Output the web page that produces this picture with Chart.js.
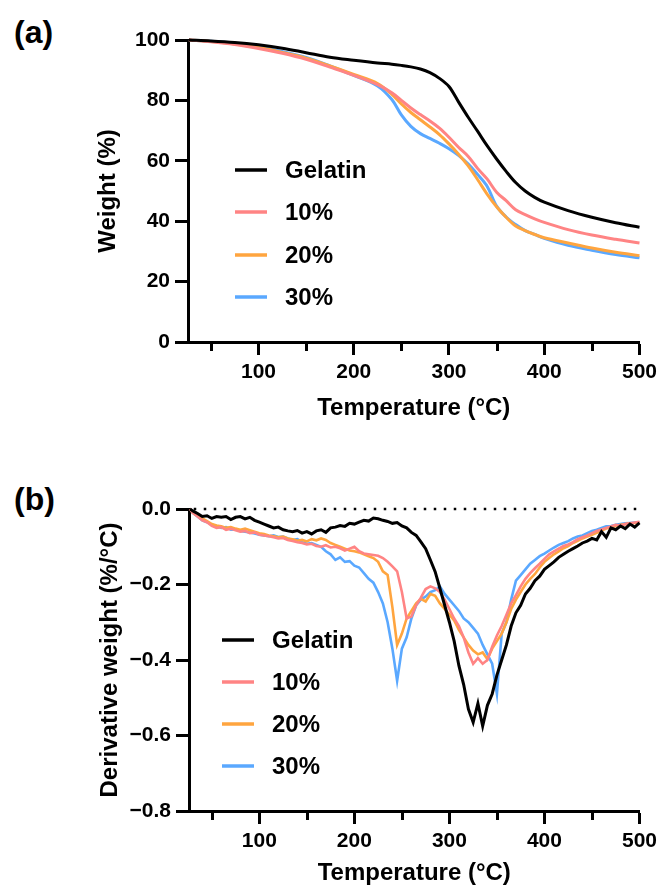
<!DOCTYPE html>
<html><head><meta charset="utf-8">
<script src="https://cdn.jsdelivr.net/npm/chart.js@4"></script>
<style>
html,body{margin:0;padding:0;background:#fff;}
#wrap{position:relative;width:662px;height:894px;overflow:hidden;background:#fff;}
.panel{position:absolute;left:14px;font-family:"Liberation Sans",Arial,sans-serif;font-weight:bold;font-size:32px;line-height:32px;color:#000;}
canvas{position:absolute;left:0;}
</style></head><body>
<div id="wrap">
<div class="panel" style="top:16px">(a)</div>
<div class="panel" style="top:483px">(b)</div>
<canvas id="ca" width="662" height="440" style="top:0px"></canvas>
<canvas id="cb" width="662" height="444" style="top:450px"></canvas>
</div>
<script>
// ---------- DATA ----------
const seriesLabels = ['Gelatin', '10%', '20%', '30%'];
const seriesColors = ['#000000', '#FF8484', '#FFA53F', '#5AA8FF'];
const xTickValues = [100, 200, 300, 400, 500];
const xMinorTicks = [50, 150, 250, 350, 450];
const yTicksA = [0, 20, 40, 60, 80, 100];
const yTicksB = [0, -0.2, -0.4, -0.6, -0.8];

// (a) TGA weight (%)
const tempsA = [27,50,75,100,125,150,175,200,225,240,250,260,270,280,290,300,310,320,330,340,350,360,370,380,390,400,425,450,475,500];
const gelatinA = [100,99.7,99.2,98.4,97.3,95.8,94.3,93.3,92.4,92.0,91.6,91.1,90.4,89.2,87.3,84.6,79.5,74.5,69.8,65.0,60.6,56.5,52.8,50.0,47.9,46.3,43.5,41.3,39.5,38.0];
const pct10A  = [100,99.4,98.5,97.2,95.6,93.6,91.0,88.3,85.2,82.5,80.0,77.5,75.3,73.2,70.8,67.8,64.5,61.5,57.5,54.0,49.6,46.8,43.8,42.2,40.8,39.6,37.2,35.4,34.0,32.8];
const pct20A  = [100,99.5,98.7,97.5,95.9,94.0,91.4,88.6,85.6,82.0,78.8,76.0,73.6,71.2,68.7,65.6,62.2,58.4,53.8,49.0,44.8,41.3,38.4,36.9,35.6,34.5,32.8,31.1,29.7,28.6];
const pct30A  = [100,99.6,98.9,97.8,96.2,94.2,91.4,88.3,84.8,80.3,75.2,71.4,69.0,67.4,65.8,64.0,61.8,59.0,55.5,51.6,45.0,41.4,38.9,36.9,35.6,34.3,32.0,30.4,29.0,27.9];

// (b) DTG derivative weight (%/°C)
const tempsB = [27,30,35,40,45,50,55,60,65,70,75,80,85,90,95,100,105,110,115,120,125,130,135,140,145,150,155,160,165,170,175,180,185,190,195,200,205,210,215,220,225,230,235,240,245,250,255,260,265,270,275,280,285,290,295,300,305,310,315,320,325,330,335,340,345,350,355,360,365,370,375,380,385,390,395,400,405,410,415,420,425,430,435,440,445,450,455,460,465,470,475,480,485,490,495,500];
const gelatinB = [0,-0.005,-0.012,-0.02,-0.018,-0.025,-0.02,-0.022,-0.02,-0.028,-0.022,-0.02,-0.026,-0.022,-0.03,-0.035,-0.04,-0.045,-0.05,-0.048,-0.055,-0.058,-0.06,-0.057,-0.064,-0.06,-0.066,-0.058,-0.055,-0.062,-0.05,-0.048,-0.044,-0.046,-0.038,-0.04,-0.035,-0.03,-0.032,-0.024,-0.026,-0.03,-0.033,-0.038,-0.036,-0.045,-0.05,-0.062,-0.07,-0.087,-0.105,-0.135,-0.166,-0.21,-0.255,-0.3,-0.35,-0.415,-0.465,-0.53,-0.565,-0.515,-0.575,-0.52,-0.49,-0.44,-0.4,-0.36,-0.31,-0.275,-0.255,-0.225,-0.21,-0.19,-0.178,-0.16,-0.15,-0.14,-0.128,-0.12,-0.112,-0.105,-0.098,-0.09,-0.085,-0.078,-0.082,-0.06,-0.075,-0.05,-0.055,-0.045,-0.052,-0.04,-0.048,-0.037];
const pct10B = [0,-0.01,-0.02,-0.03,-0.035,-0.045,-0.05,-0.048,-0.055,-0.052,-0.056,-0.06,-0.058,-0.064,-0.062,-0.068,-0.07,-0.072,-0.075,-0.078,-0.077,-0.082,-0.085,-0.088,-0.09,-0.094,-0.092,-0.098,-0.1,-0.096,-0.102,-0.1,-0.104,-0.11,-0.105,-0.1,-0.112,-0.118,-0.12,-0.122,-0.124,-0.13,-0.14,-0.152,-0.165,-0.22,-0.29,-0.285,-0.255,-0.235,-0.212,-0.205,-0.21,-0.22,-0.24,-0.265,-0.29,-0.31,-0.34,-0.38,-0.41,-0.395,-0.41,-0.4,-0.365,-0.335,-0.31,-0.28,-0.25,-0.228,-0.205,-0.185,-0.17,-0.157,-0.145,-0.132,-0.12,-0.112,-0.105,-0.098,-0.094,-0.088,-0.08,-0.075,-0.07,-0.064,-0.058,-0.054,-0.05,-0.046,-0.042,-0.044,-0.04,-0.038,-0.036,-0.034];
const pct20B = [0,-0.01,-0.018,-0.025,-0.032,-0.04,-0.044,-0.046,-0.05,-0.048,-0.052,-0.055,-0.052,-0.056,-0.06,-0.064,-0.066,-0.07,-0.072,-0.075,-0.073,-0.078,-0.08,-0.084,-0.082,-0.086,-0.08,-0.083,-0.078,-0.082,-0.09,-0.095,-0.1,-0.105,-0.11,-0.112,-0.115,-0.12,-0.125,-0.13,-0.14,-0.165,-0.175,-0.26,-0.36,-0.33,-0.29,-0.27,-0.25,-0.238,-0.245,-0.225,-0.23,-0.25,-0.265,-0.28,-0.295,-0.32,-0.34,-0.36,-0.375,-0.385,-0.38,-0.398,-0.37,-0.35,-0.33,-0.3,-0.265,-0.24,-0.22,-0.2,-0.185,-0.172,-0.155,-0.14,-0.13,-0.12,-0.112,-0.104,-0.098,-0.09,-0.084,-0.078,-0.073,-0.068,-0.063,-0.057,-0.052,-0.048,-0.045,-0.042,-0.04,-0.038,-0.037,-0.035];
const pct30B = [0,-0.01,-0.02,-0.03,-0.035,-0.042,-0.045,-0.05,-0.048,-0.055,-0.054,-0.058,-0.06,-0.062,-0.065,-0.068,-0.07,-0.072,-0.07,-0.074,-0.073,-0.078,-0.082,-0.08,-0.088,-0.092,-0.09,-0.095,-0.1,-0.112,-0.12,-0.135,-0.128,-0.14,-0.138,-0.15,-0.155,-0.17,-0.185,-0.195,-0.22,-0.25,-0.3,-0.37,-0.455,-0.37,-0.34,-0.29,-0.255,-0.24,-0.232,-0.22,-0.215,-0.205,-0.225,-0.24,-0.255,-0.27,-0.29,-0.3,-0.315,-0.33,-0.36,-0.385,-0.41,-0.49,-0.33,-0.3,-0.24,-0.19,-0.175,-0.16,-0.145,-0.135,-0.125,-0.118,-0.11,-0.102,-0.095,-0.09,-0.085,-0.078,-0.073,-0.07,-0.064,-0.058,-0.055,-0.05,-0.046,-0.045,-0.042,-0.04,-0.038,-0.037,-0.036,-0.035];

// ---------- RENDER ----------
const FONT = '"Liberation Sans", Arial, sans-serif';
Chart.defaults.font.family = FONT;
Chart.defaults.color = '#000';

const pairs = (xs, ys) => xs.map((x, i) => ({x: x, y: ys[i]}));

const minorTickPlugin = {
  id: 'minorTicks',
  afterDraw(chart) {
    const s = chart.scales.x, ctx = chart.ctx, b = chart.chartArea.bottom;
    ctx.save();
    ctx.strokeStyle = '#000';
    ctx.lineWidth = 3;
    xMinorTicks.forEach(v => {
      const px = Math.round(s.getPixelForValue(v)) + 0.5;
      ctx.beginPath(); ctx.moveTo(px, b); ctx.lineTo(px, b + 9); ctx.stroke();
    });
    ctx.restore();
  }
};

const legendPlugin = {
  id: 'customLegend',
  afterDraw(chart, args, opts) {
    const ctx = chart.ctx;
    ctx.save();
    ctx.font = 'bold 24px ' + FONT;
    ctx.textBaseline = 'middle';
    ctx.textAlign = 'left';
    let row = 0;
    chart.data.datasets.forEach(ds => {
      if (ds.hideInLegend) return;
      const y = opts.ys[row++];
      ctx.strokeStyle = ds.borderColor;
      ctx.lineWidth = 3.5;
      ctx.beginPath(); ctx.moveTo(opts.x0, y); ctx.lineTo(opts.x1, y); ctx.stroke();
      ctx.fillStyle = '#000';
      ctx.fillText(ds.label, opts.tx, y + 1);
    });
    ctx.restore();
  }
};

function makeChart(id, temps, series, cfg) {
  const datasets = series.map((s, i) => ({
    label: seriesLabels[i],
    data: pairs(temps, s),
    borderColor: seriesColors[i],
    borderWidth: cfg.lw[i],
    pointRadius: 0,
    fill: false,
    tension: cfg.smooth ? 0.35 : 0,
    clip: false
  }));
  if (cfg.zeroLine) {
    datasets.push({
      label: 'zero', hideInLegend: true,
      data: [{x: 31, y: 0}, {x: 500, y: 0}],
      borderColor: '#000', borderWidth: 2.5, borderDash: [2.5, 7.5],
      pointRadius: 0, fill: false, clip: false
    });
  }
  return new Chart(document.getElementById(id), {
    type: 'line',
    data: {datasets: datasets},
    plugins: [minorTickPlugin, legendPlugin],
    options: {
      responsive: false, animation: false, events: [],
      layout: {padding: cfg.pad},
      plugins: {
        legend: {display: false}, tooltip: {enabled: false},
        customLegend: cfg.legend
      },
      scales: {
        x: {
          type: 'linear', min: 26, max: 500,
          afterBuildTicks: s => { s.ticks = xTickValues.map(v => ({value: v})); },
          afterFit: s => { s.height = cfg.xh; },
          border: {display: true, color: '#000', width: 3},
          grid: {drawOnChartArea: false, drawTicks: true, tickLength: 13, tickWidth: 3, tickColor: '#000'},
          ticks: {font: {size: 21, weight: 'bold'}, color: '#000', padding: 5, maxRotation: 0},
          title: {display: true, text: 'Temperature (°C)', font: {size: 24, weight: 'bold'}, color: '#000', padding: 0}
        },
        y: {
          type: 'linear', min: cfg.ymin, max: cfg.ymax,
          afterBuildTicks: s => { s.ticks = cfg.yticks.map(v => ({value: v})); },
          afterFit: s => { s.width = cfg.yw; },
          border: {display: true, color: '#000', width: 3},
          grid: {drawOnChartArea: false, drawTicks: true, tickLength: 13, tickWidth: 3, tickColor: '#000'},
          ticks: {font: {size: 21, weight: 'bold'}, color: '#000', padding: 5, callback: cfg.yfmt},
          title: {display: true, text: cfg.ytitle, font: {size: 24, weight: 'bold'}, color: '#000', padding: 0}
        }
      }
    }
  });
}

makeChart('ca', tempsA, [gelatinA, pct10A, pct20A, pct30A], {
  lw: [3, 3, 3, 3], smooth: true, zeroLine: false,
  pad: {left: 93.6, right: 19, top: 40, bottom: 17.6},
  xh: 80.4, yw: 94.4, ymin: 0, ymax: 100, yticks: yTicksA,
  yfmt: v => String(Math.round(v)),
  ytitle: 'Weight (%)',
  legend: {x0: 235, x1: 267, tx: 285, ys: [170, 212, 255, 297]}
});

makeChart('cb', tempsB, [gelatinB, pct10B, pct20B, pct30B], {
  lw: [3, 2.6, 2.6, 2.6], smooth: false, zeroLine: true,
  pad: {left: 95.6, right: 19, top: 59, bottom: 6.6},
  xh: 76.4, yw: 93.4, ymin: -0.8, ymax: 0, yticks: yTicksB,
  yfmt: v => (Math.abs(v) < 1e-9 ? '0.0' : (v < 0 ? '\u2212' : '') + Math.abs(v).toFixed(1)),
  ytitle: 'Derivative weight (%/°C)',
  legend: {x0: 222, x1: 254, tx: 272, ys: [190, 232, 274, 316]}
});
</script>
</body></html>
